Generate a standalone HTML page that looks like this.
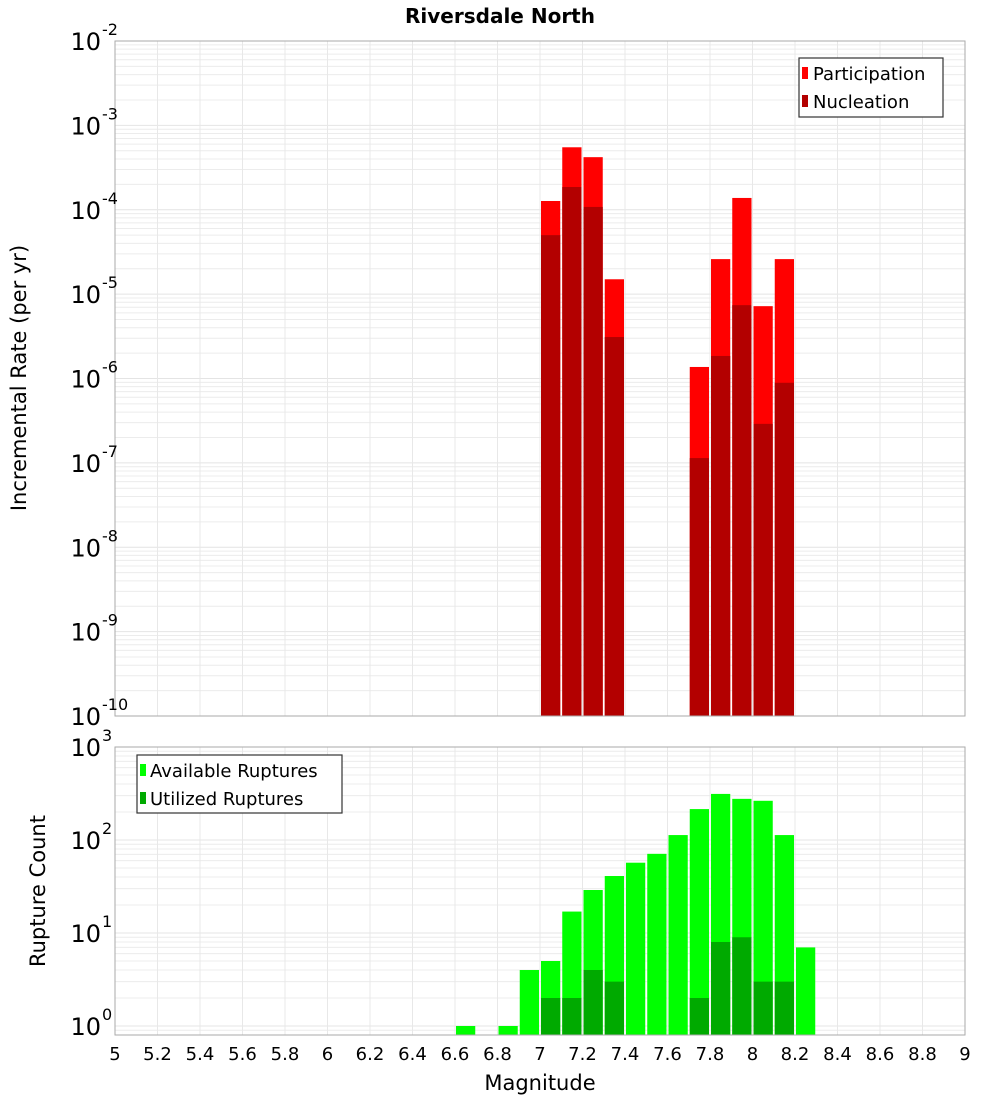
<!DOCTYPE html>
<html><head><meta charset="utf-8"><style>
body{margin:0;background:#fff;}
svg{display:block;font-family:"DejaVu Sans","Liberation Sans",sans-serif;}
</style></head><body>
<svg id="chart" width="1000" height="1100" xmlns="http://www.w3.org/2000/svg">
<text x="500" y="23" text-anchor="middle" font-size="20" font-weight="bold">Riversdale North</text>
<g id="gtop"></g>
<g id="gbot"></g>
<text transform="translate(26,378) rotate(-90)" text-anchor="middle" font-size="21">Incremental Rate (per yr)</text>
<text transform="translate(45,891) rotate(-90)" text-anchor="middle" font-size="21">Rupture Count</text>
<text x="540" y="1090" text-anchor="middle" font-size="21">Magnitude</text>
<g>
<rect x="799" y="58" width="144" height="59" fill="#fff" stroke="#333" stroke-width="1.2"/>
<rect x="802" y="67" width="6" height="12" fill="#ff0000"/>
<text x="813" y="80" font-size="18">Participation</text>
<rect x="802" y="95" width="6" height="12" fill="#b30000"/>
<text x="813" y="108" font-size="18">Nucleation</text>
</g>
<g>
<rect x="137" y="755" width="205" height="58" fill="#fff" stroke="#333" stroke-width="1.2"/>
<rect x="140" y="764" width="6" height="12" fill="#00ff00"/>
<text x="150" y="777" font-size="18">Available Ruptures</text>
<rect x="140" y="792" width="6" height="12" fill="#00aa00"/>
<text x="150" y="805" font-size="18">Utilized Ruptures</text>
</g>
</svg>
<script>
const rateMags = [7.0, 7.1, 7.2, 7.3, 7.7, 7.8, 7.9, 8.0, 8.1];
const participation = [1.27e-4, 5.5e-4, 4.2e-4, 1.5e-5, 1.37e-6, 2.6e-5, 1.38e-4, 7.2e-6, 2.6e-5];
const nucleation = [5e-5, 1.86e-4, 1.08e-4, 3.1e-6, 1.14e-7, 1.85e-6, 7.4e-6, 2.9e-7, 8.9e-7];
const countMags = [6.6, 6.8, 6.9, 7.0, 7.1, 7.2, 7.3, 7.4, 7.5, 7.6, 7.7, 7.8, 7.9, 8.0, 8.1, 8.2];
const available = [1, 1, 4, 5, 17, 29, 41, 57, 71, 113, 215, 313, 277, 264, 113, 7];
const utilizedMags = [7.0, 7.1, 7.2, 7.3, 7.7, 7.8, 7.9, 8.0, 8.1];
const utilized = [2, 2, 4, 3, 2, 8, 9, 3, 3];
const xTicks = [5,5.2,5.4,5.6,5.8,6,6.2,6.4,6.6,6.8,7,7.2,7.4,7.6,7.8,8,8.2,8.4,8.6,8.8,9];
const topExps = [-2,-3,-4,-5,-6,-7,-8,-9,-10];
const botExps = [3,2,1,0];

const NS='http://www.w3.org/2000/svg';
const L=115,R=965;
const xs=m=>L+(m-5)/4*(R-L);
const yT=v=>41+(-2-Math.log10(v))*84.375;
const yB=v=>1026-Math.log10(v)*93;
function mk(p,tag,a){const e=document.createElementNS(NS,tag);for(const k in a)e.setAttribute(k,a[k]);p.appendChild(e);return e;}
const gTop=document.getElementById('gtop'),gBot=document.getElementById('gbot');

function panel(g,y0,y1,yf,lo,hi,name){
  for(let e=lo;e<hi;e++)for(let k=1;k<10;k++){const v=k*Math.pow(10,e);const yy=yf(v);if(yy<y0||yy>y1)continue;
    const ln=mk(g,'line',{x1:L,x2:R,y1:yy,y2:yy,stroke:k==1?'#e4e4e4':'#ececec','stroke-width':1});
    
    }
  xTicks.forEach(t=>{const ln=mk(g,'line',{x1:xs(t),x2:xs(t),y1:y0,y2:y1,stroke:'#e8e8e8','stroke-width':1});
    
    });
}
panel(gTop,41,716,yT,-10,-2,'top');
panel(gBot,747,1035,yB,-1,3,'bottom');

function bar(g,m,v,yf,ybase,fill,name){
  const yy=yf(v);
  const r=mk(g,'rect',{x:xs(m)+1,y:yy,width:xs(m+0.1)-xs(m)-2,height:ybase-yy,fill:fill});
  
  
}
rateMags.forEach((m,i)=>bar(gTop,m,participation[i],yT,716,'#ff0000','bar-participation'));
rateMags.forEach((m,i)=>bar(gTop,m,nucleation[i],yT,716,'#b30000','bar-nucleation'));
countMags.forEach((m,i)=>bar(gBot,m,available[i],yB,1035,'#00ff00','bar-available'));
utilizedMags.forEach((m,i)=>bar(gBot,m,utilized[i],yB,1035,'#00aa00','bar-utilized'));

const f1=mk(gTop,'rect',{x:L,y:41,width:R-L,height:675,fill:'none',stroke:'#aaa','stroke-width':1});


const f2=mk(gBot,'rect',{x:L,y:747,width:R-L,height:288,fill:'none',stroke:'#aaa','stroke-width':1});



function ylab(g,e,yy,name){
  const t=mk(g,'text',{x:101,y:yy+9,'text-anchor':'end','font-size':24});t.textContent='10';
  
  
  const s=mk(g,'text',{x:102,y:yy-6,'font-size':16});s.textContent=String(e);
  
  
}
topExps.forEach(e=>ylab(gTop,e,yT(Math.pow(10,e)),'top-y-tick-label'));
botExps.forEach(e=>ylab(gBot,e,yB(Math.pow(10,e)),'bottom-y-tick-label'));
xTicks.forEach(t=>{const tx=mk(gBot,'text',{x:xs(t),y:1060,'text-anchor':'middle','font-size':18});
  tx.textContent=String(t);
  
  });
</script>
</body></html>
